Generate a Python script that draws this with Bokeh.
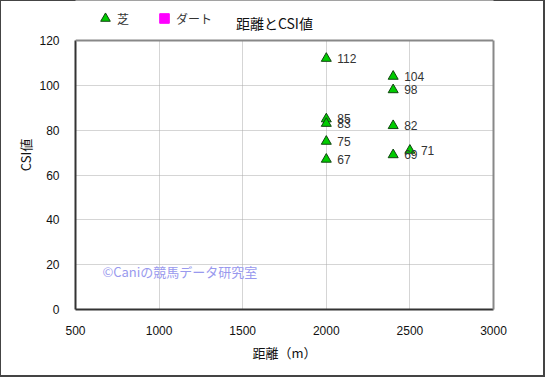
from bokeh.plotting import figure
from bokeh.models import (Range1d, Legend, LegendItem, Label, FixedTicker, ColumnDataSource,
                          LinearAxis, Span, Grid, BoxAnnotation)
from bokeh.core.properties import value
from bokeh.embed import file_html
from bokeh.resources import INLINE

turf_dist = [2000, 2400, 2400, 2000, 2000, 2000, 2000, 2400, 2400, 2500]
turf_csi = [112, 104, 98, 85, 83, 75, 67, 82, 69, 71]
dirt_dist = []
dirt_csi = []
x_ticks = [500, 1000, 1500, 2000, 2500, 3000]
y_ticks = [0, 20, 40, 60, 80, 100, 120]
title_text = "距離とCSI値"

FONT = "Noto Sans CJK JP"
NUM_FONT = "Liberation Sans"

Y_MAX = 120
Y_TOP = 120 + 40 * 120 / 269.0   # extra room above the plot for legend/title

p = figure(width=545, height=377, output_backend="svg", toolbar_location=None,
           x_range=Range1d(500, 3000), y_range=Range1d(0, Y_TOP),
           min_border_left=75, min_border_right=52, min_border_top=0, min_border_bottom=68)
p.title.visible = False
p.border_fill_alpha = 0
p.background_fill_color = "white"
p.outline_line_color = None
p.styles = {"box-shadow": "inset 1px 1px 0 #444444, inset -2px -2px 0 #444444"}

p.xaxis.ticker = FixedTicker(ticks=x_ticks)
p.yaxis.ticker = FixedTicker(ticks=y_ticks)
p.yaxis.bounds = (0, Y_MAX)
for ax in (p.xaxis[0], p.yaxis[0]):
    ax.major_tick_line_color = None
    ax.minor_tick_line_color = None
    ax.axis_line_color = "#333333"
    ax.axis_line_width = 2
    ax.major_label_text_font = NUM_FONT
    ax.major_label_text_font_size = "12px"
    ax.major_label_text_color = "#111111"
    ax.axis_label_text_font = FONT
    ax.axis_label_text_font_size = "13px"
    ax.axis_label_text_font_style = "normal"
    ax.axis_label_text_color = "#111111"
p.xaxis.axis_label = "距離（m）"
p.yaxis.axis_label = "CSI値"
p.xaxis.major_label_standoff = 10
p.yaxis.major_label_standoff = 10
p.xaxis.axis_label_standoff = 5
p.yaxis.axis_label_standoff = 1

right_ax = LinearAxis(bounds=(0, Y_MAX), ticker=FixedTicker(ticks=[]),
                      axis_line_color="#888888", axis_line_width=2,
                      major_tick_line_color=None, minor_tick_line_color=None,
                      major_label_text_alpha=0)
p.add_layout(right_ax, "right")
p.add_layout(Span(location=Y_MAX, dimension="width", line_color="#888888", line_width=2))

p.grid.grid_line_color = "#aaaaaa"
p.grid.grid_line_dash = "1 1"
p.grid.grid_line_width = 1
if "cross_bounds" in Grid.properties():
    p.xgrid.cross_bounds = (0, Y_MAX)
else:
    p.add_layout(BoxAnnotation(bottom=Y_MAX, fill_color="white", fill_alpha=1,
                               line_color=None, level="underlay"))

src = ColumnDataSource(dict(x=turf_dist, y=turf_csi, t=[str(v) for v in turf_csi]))
r_turf = p.scatter("x", "y", source=src, marker="triangle", size=10,
                   fill_color="#00cc00", line_color="#114411", line_width=1)
# the dirt series has no points; a NaN placeholder lets the legend draw its swatch
dirt_src = ColumnDataSource(dict(x=dirt_dist or [float("nan")], y=dirt_csi or [float("nan")]))
r_dirt = p.scatter("x", "y", source=dirt_src, marker="square", size=8,
                   fill_color="#ff00ff", line_color="#ff00ff")
p.text("x", "y", text="t", source=src, x_offset=11, y_offset=0,
       text_font=value(NUM_FONT), text_font_size="12px", text_color="#333333",
       text_baseline="middle", text_align="left")

wm = Label(x=661, y=17, text="©Caniの競馬データ研究室", text_font=FONT,
           text_font_size="13px", text_color="#9999ee", text_baseline="middle")
p.add_layout(wm)

ttl = Label(x=1690, y=128, text=title_text, text_font=FONT, text_font_size="14px",
            text_color="#111111", text_baseline="middle", text_align="center")
p.add_layout(ttl)

legend = Legend(items=[LegendItem(label="芝", renderers=[r_turf]),
                       LegendItem(label="ダート", renderers=[r_dirt])],
                orientation="horizontal", location=(18, 279),
                background_fill_alpha=0, border_line_color=None,
                label_text_font=FONT, label_text_font_size="12px",
                label_text_color="#333333", glyph_width=24, glyph_height=24,
                spacing=15, label_standoff=0, padding=0, margin=0)
p.add_layout(legend, "center")

open("out.html", "w").write(file_html(p, INLINE))
